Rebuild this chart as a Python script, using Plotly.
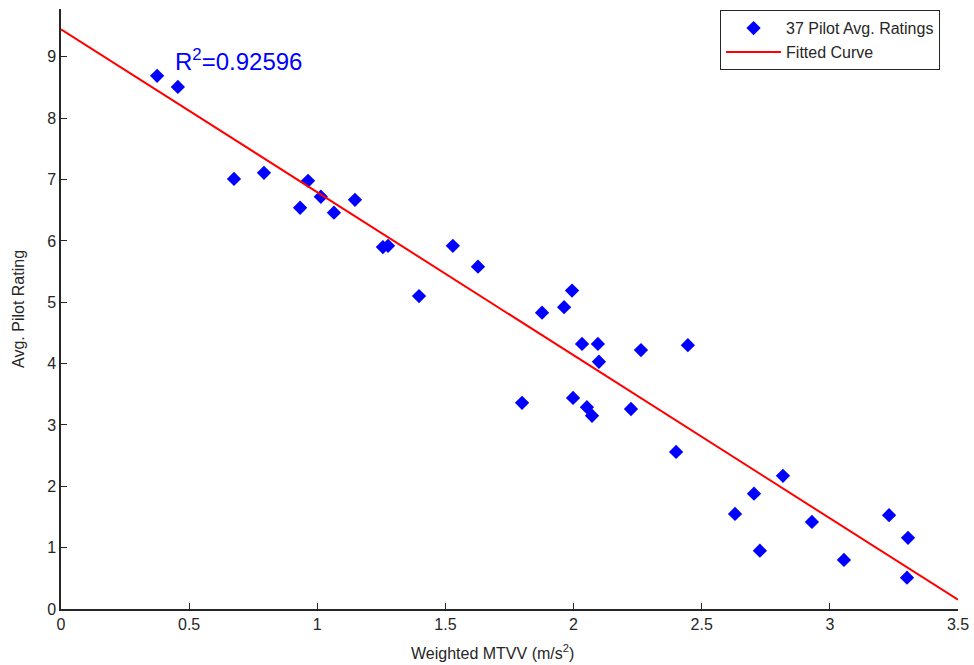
import numpy as np
import plotly.graph_objects as go

# Weighted MTVV (m/s^2) and average pilot rating for each of the 37 runs
mtvv = [0.375, 0.456, 0.675, 0.792, 0.933, 0.964, 1.014, 1.065, 1.147, 1.256,
        1.276, 1.397, 1.529, 1.627, 1.877, 1.799, 1.963, 1.994, 2.033, 2.095,
        2.099, 1.998, 2.052, 2.072, 2.224, 2.263, 2.446, 2.400, 2.630, 2.704,
        2.727, 2.817, 2.930, 3.055, 3.231, 3.305, 3.301]
rating = [8.69, 8.51, 7.01, 7.11, 6.54, 6.98, 6.72, 6.46, 6.67, 5.90,
          5.92, 5.10, 5.92, 5.58, 4.83, 3.36, 4.92, 5.19, 4.32, 4.32,
          4.03, 3.44, 3.29, 3.15, 3.26, 4.22, 4.30, 2.56, 1.55, 1.88,
          0.95, 2.17, 1.42, 0.80, 1.53, 1.16, 0.51]

# Linear fit coefficients (rating = p1 * mtvv + p2)
p1 = -2.657
p2 = 9.45
r_squared = "0.92596"

x_ticks = [0, 0.5, 1, 1.5, 2, 2.5, 3, 3.5]
y_ticks = [0, 1, 2, 3, 4, 5, 6, 7, 8, 9]

fit_x = np.linspace(0, 3.5, 50)
fit_y = p1 * fit_x + p2

FONT = "Liberation Sans, Arial, sans-serif"
INK = "#262626"

fig = go.Figure()
fig.add_trace(go.Scatter(
    x=mtvv, y=rating, mode="markers", name="37 Pilot Avg. Ratings",
    marker=dict(symbol="diamond", size=11, color="#0000FF", line=dict(width=0)),
))
fig.add_trace(go.Scatter(
    x=fit_x, y=fit_y, mode="lines", name="Fitted Curve",
    line=dict(color="#FF0000", width=2),
))

# Goodness-of-fit label
fig.add_annotation(
    x=0.437, y=8.95, xref="x", yref="y", xanchor="left", yanchor="middle",
    text="R<sup>2</sup>=" + r_squared, showarrow=False,
    font=dict(family=FONT, size=24, color="#0000FF"),
)

# Axis titles
fig.add_annotation(
    x=0.4816, y=-0.052, xref="paper", yref="paper", xanchor="center", yanchor="top",
    text="Weighted MTVV (m/s<sup>2</sup>)", showarrow=False,
    font=dict(family=FONT, size=16, color=INK),
)
fig.add_annotation(
    x=-0.048, y=0.5, xref="paper", yref="paper", xanchor="center", yanchor="middle",
    text="Avg. Pilot Rating", showarrow=False, textangle=-90,
    font=dict(family=FONT, size=16, color=INK),
)

axis_common = dict(
    showgrid=False, zeroline=False, showline=True, linecolor=INK, linewidth=1.5,
    ticks="inside", ticklen=6, tickcolor=INK, tickwidth=1,
    tickfont=dict(family=FONT, size=16, color=INK),
    mirror=False, automargin=False,
)

fig.update_layout(
    width=974, height=665,
    margin=dict(l=61, r=16, t=9, b=56),
    paper_bgcolor="white", plot_bgcolor="white",
    showlegend=True,
    legend=dict(
        x=0.98, y=0.998, xanchor="right", yanchor="top",
        bordercolor=INK, borderwidth=1, bgcolor="white",
        font=dict(family=FONT, size=16, color=INK),
        tracegroupgap=0, itemwidth=55,
    ),
    xaxis=dict(
        range=[0, 3.5], tickvals=x_ticks, ticktext=[f"{v:g}" for v in x_ticks],
        **axis_common,
    ),
    yaxis=dict(
        range=[0, 9.78], tickvals=y_ticks, ticktext=[str(v) for v in y_ticks],
        **axis_common,
    ),
)

fig.write_html("out.html")
